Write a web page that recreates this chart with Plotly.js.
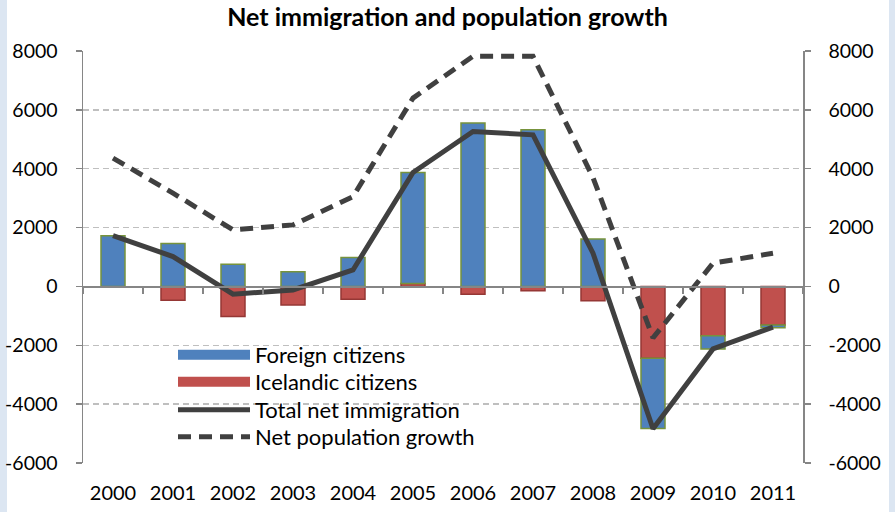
<!DOCTYPE html>
<html>
<head>
<meta charset="utf-8">
<script src="https://cdn.plot.ly/plotly-3.0.1.min.js"></script>
<style>
  html, body { margin: 0; padding: 0; background: #dce6f2; }
  #wrap { position: relative; width: 895px; height: 512px; }
  #white { position: absolute; left: 7px; top: 0; width: 882px; height: 512px; background: #ffffff; }
  #chart { position: absolute; left: 0; top: 0; width: 895px; height: 512px; }
</style>
</head>
<body>
<div id="wrap"><div id="white"></div><div id="chart"></div></div>
<script>
const years = ['2000','2001','2002','2003','2004','2005','2006','2007','2008','2009','2010','2011'];
const foreignCitizens = [1720, 1455, 755, 495, 980, 3770, 5550, 5320, 1615, -2385, -445, -90];
const icelandicCitizens = [0, -470, -1025, -630, -435, 100, -265, -145, -485, -2440, -1680, -1310];
const totalNetImmigration = [1730, 1015, -265, -120, 560, 3870, 5265, 5150, 1130, -4835, -2125, -1380];
const netPopulationGrowth = [4360, 3170, 1920, 2090, 3050, 6400, 7820, 7820, 3700, -1750, 790, 1130];
const yTicks = [-6000, -4000, -2000, 0, 2000, 4000, 6000, 8000];

const FONT = 'Lato, "Open Sans", sans-serif';
const grey = '#868686';
const BLUE = '#4f81bd', RED = '#c0504d', DARK = '#404040';
const nulls = years.map(() => null);

const traces = [
  {
    type: 'bar', name: 'Icelandic citizens', x: years, y: icelandicCitizens,
    marker: {color: RED, line: {color: '#953735', width: 1.5}},
    showlegend: false, hoverinfo: 'x+y'
  },
  {
    type: 'bar', name: 'Foreign citizens', x: years, y: foreignCitizens,
    marker: {color: BLUE, line: {color: '#77933c', width: 1.5}},
    showlegend: false, hoverinfo: 'x+y'
  },
  {
    type: 'scatter', mode: 'lines', name: 'Total net immigration', x: years, y: totalNetImmigration,
    line: {color: DARK, width: 5}, legend: 'legend3'
  },
  {
    type: 'scatter', mode: 'lines', name: 'Net population growth', x: years, y: netPopulationGrowth,
    line: {color: DARK, width: 5, dash: '13px,8px'}, legend: 'legend4', yaxis: 'y2'
  },
  // legend swatches for the bar series (wide rectangles like the original)
  {
    type: 'scatter', mode: 'lines', name: 'Foreign citizens', x: years, y: nulls,
    line: {color: BLUE, width: 14}, legend: 'legend', hoverinfo: 'skip'
  },
  {
    type: 'scatter', mode: 'lines', name: 'Icelandic citizens', x: years, y: nulls,
    line: {color: RED, width: 14}, legend: 'legend2', hoverinfo: 'skip'
  },
  {
    type: 'scatter', mode: 'lines', x: years, y: nulls,
    xaxis: 'x2', showlegend: false, hoverinfo: 'skip'
  }
];

const yCommon = {
  range: [-6000, 8000], tickvals: yTicks, ticktext: yTicks.map(String),
  showline: true, linecolor: grey, linewidth: 1.5,
  ticks: 'outside', ticklen: 6, tickcolor: grey, tickwidth: 1.5,
  tickfont: {family: FONT, size: 19.5, color: '#000'},
  zeroline: false, fixedrange: true
};

function leg(y) {
  return {x: 0.125, y: y, xanchor: 'left', yanchor: 'top', bgcolor: 'rgba(0,0,0,0)',
          font: {family: FONT, size: 22, color: '#000'}, itemwidth: 72};
}

const layout = {
  width: 895, height: 512,
  margin: {l: 83, r: 92, t: 51, b: 49},
  paper_bgcolor: 'rgba(0,0,0,0)', plot_bgcolor: 'rgba(0,0,0,0)',
  font: {family: FONT, color: '#000'},
  title: {text: '<b>Net immigration and population growth</b>', font: {family: FONT, size: 25, color: '#000'},
          x: 0.5, xanchor: 'center', y: 0.966, yanchor: 'middle'},
  barmode: 'relative', bargap: 0.6,
  showlegend: true,
  legend: leg(0.313),
  legend2: leg(0.2476),
  legend3: leg(0.1796),
  legend4: leg(0.114),
  xaxis: {
    type: 'category', showline: false, showgrid: false, zeroline: false,
    ticks: 'outside', ticklen: 12, tickcolor: 'rgba(0,0,0,0)',
    tickfont: {family: FONT, size: 20, color: '#000'}, fixedrange: true
  },
  xaxis2: {
    type: 'category', overlaying: 'x', matches: 'x', anchor: 'free',
    position: 6000 / 14000, showline: true, linecolor: grey, linewidth: 1.5,
    ticks: 'outside', tickson: 'boundaries', ticklen: 6, tickcolor: grey, tickwidth: 1.5,
    showticklabels: false, showgrid: false, zeroline: false, fixedrange: true
  },
  yaxis: Object.assign({}, yCommon, {
    side: 'left', ticklabelstandoff: 14,
    showgrid: true, gridcolor: '#bfbfbf', gridwidth: 1.5, griddash: '6px,4px'
  }),
  yaxis2: Object.assign({}, yCommon, {
    side: 'right', overlaying: 'y', showgrid: false, ticklabelstandoff: 14
  })
};

Plotly.newPlot('chart', traces, layout, {displayModeBar: false, staticPlot: true});
</script>
</body>
</html>
